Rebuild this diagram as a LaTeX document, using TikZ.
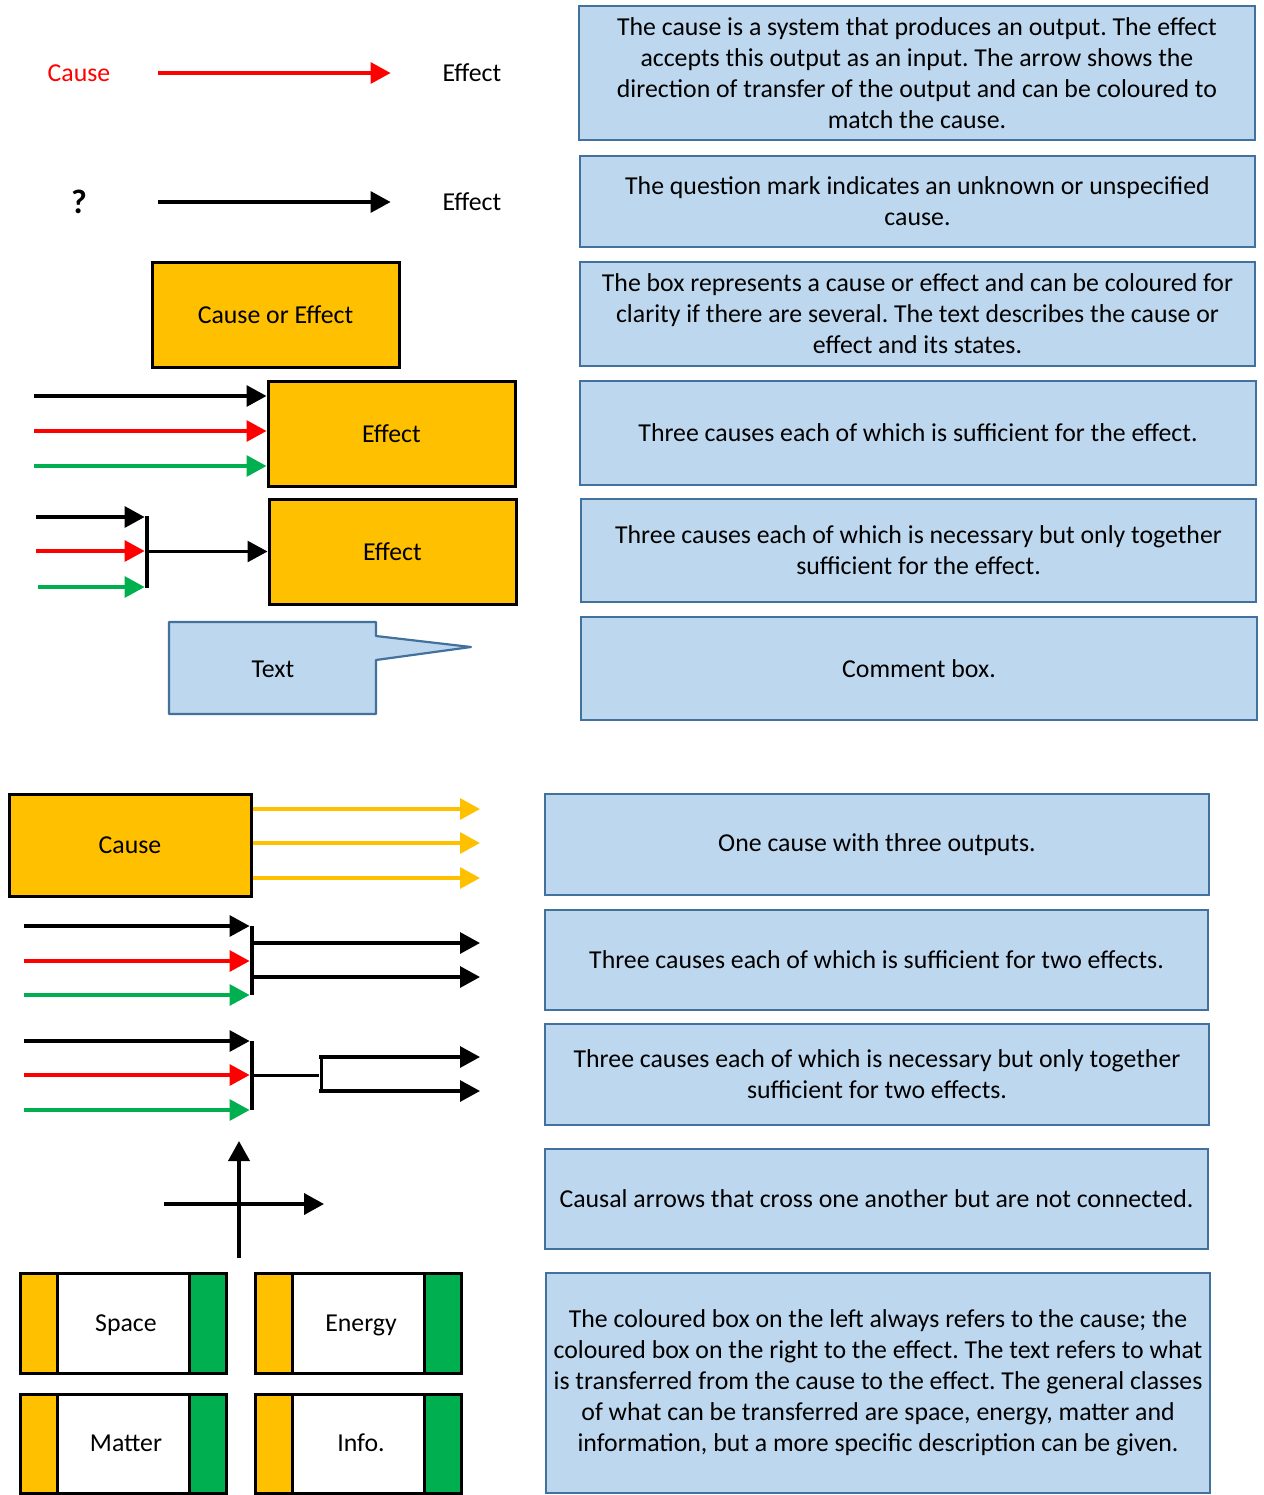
\documentclass[tikz,border=0pt]{standalone}
\usepackage{fontspec}
\setmainfont{Carlito}
\usetikzlibrary{arrows.meta}
\frenchspacing

\definecolor{boxblue}{HTML}{BDD7EE}
\definecolor{edgeblue}{HTML}{41719C}
\definecolor{amber}{HTML}{FFC000}
\definecolor{leaf}{HTML}{00B050}
\definecolor{cred}{HTML}{FF0000}

% rectangle node given by its corners: name, x1, y1, x2, y2, style, text
\newcommand\placebox[7]{%
  \pgfmathsetmacro\pbW{(#4-#2)*0.5}%
  \pgfmathsetmacro\pbH{(#5-#3)*0.5}%
  \pgfmathsetmacro\pbX{(#2+#4)/2}%
  \pgfmathsetmacro\pbY{(#3+#5)/2}%
  \node[#6, minimum width=\pbW pt, minimum height=\pbH pt] (#1) at (\pbX,\pbY) {#7};}

\tikzset{
  txt/.style={font=\fontsize{12.9}{15.5}\selectfont},
  desc/.style={txt, draw=edgeblue, fill=boxblue, line width=1.1pt, align=center, inner sep=0pt},
  ambox/.style={txt, draw=black, fill=amber, line width=1.5pt, inner sep=0pt},
  lbl/.style={txt, inner sep=0pt},
  arr/.style={line width=1.6pt, -{Triangle[length=10pt,width=10.5pt]}},
  joinbar/.style={fill=black, inner sep=0pt, minimum width=2pt},
  xfer/.style={txt, draw=black, fill=white, line width=1.5pt, inner sep=0pt,
    text height=10pt, text depth=2pt,
    path picture={
      \fill[amber] (path picture bounding box.south west) rectangle ([xshift=18.5pt]path picture bounding box.north west);
      \fill[leaf] (path picture bounding box.south east) rectangle ([xshift=-18.5pt]path picture bounding box.north east);
      \draw[line width=1.5pt] ([xshift=18.5pt]path picture bounding box.south west) -- ([xshift=18.5pt]path picture bounding box.north west);
      \draw[line width=1.5pt] ([xshift=-18.5pt]path picture bounding box.south east) -- ([xshift=-18.5pt]path picture bounding box.north east);
    }},
}

\begin{document}
\begin{tikzpicture}[x=0.5pt, y=-0.5pt]
\useasboundingbox (0,0) rectangle (1264,1495);

% ---------- cause -> effect ----------
\node[lbl, text=cred, minimum width=79pt] (c1) at (79,73) {Cause};
\node[lbl, minimum width=81pt] (e1) at (472,73) {Effect};
\draw[arr, cred] (c1.east) -- (e1.west);

% ---------- unknown cause ----------
\node[inner sep=0pt, minimum width=79pt, font=\fontsize{17}{20}\selectfont\bfseries] (q) at (79,202) {?};
\node[lbl, minimum width=81pt] (e2) at (472,202) {Effect};
\draw[arr] (q.east) -- (e2.west);

% ---------- cause or effect box ----------
\placebox{coe}{152}{262}{399}{367}{ambox}{Cause or Effect}

% ---------- three sufficient causes ----------
\placebox{eff1}{268}{381}{515}{486}{ambox}{Effect}
\coordinate (a1) at (34,396);
\coordinate (a2) at (34,431);
\coordinate (a3) at (34,466);
\draw[arr] (a1) -- (a1 -| eff1.west);
\draw[arr, cred] (a2) -- (a2 -| eff1.west);
\draw[arr, leaf] (a3) -- (a3 -| eff1.west);

% ---------- three necessary causes ----------
\placebox{eff2}{269}{499}{516}{604}{ambox}{Effect}
\node[joinbar, minimum height=36pt] (j1) at (147,551.5) {};
\coordinate (b1) at (36,517);
\coordinate (b2) at (36,551);
\coordinate (b3) at (38,587);
\draw[arr] (b1) -- (b1 -| j1.west);
\draw[arr, cred] (b2) -- (b2 -| j1.west);
\draw[arr, leaf] (b3) -- (b3 -| j1.west);
\draw[arr, line width=1.3pt] (j1.east) -- (j1.east -| eff2.west);

% ---------- comment callout ----------
\draw[fill=boxblue, draw=edgeblue, line width=1.1pt, line join=round]
  (169,622) -- (376,622) -- (376,636) -- (471,647) -- (376,660) -- (376,714) -- (169,714) -- cycle;
\node[lbl] (tx) at (273,669) {Text};

% ---------- one cause, three outputs ----------
\placebox{cause}{9}{794}{251}{896}{ambox}{Cause}
\coordinate (o1) at (480,809);
\coordinate (o2) at (480,843);
\coordinate (o3) at (480,878);
\draw[arr, amber] (o1 -| cause.east) -- (o1);
\draw[arr, amber] (o2 -| cause.east) -- (o2);
\draw[arr, amber] (o3 -| cause.east) -- (o3);

% ---------- three sufficient causes, two effects ----------
\node[joinbar, minimum height=34.5pt] (j2) at (252,960.5) {};
\coordinate (s1) at (24,926);
\coordinate (s2) at (24,961);
\coordinate (s3) at (24,995);
\draw[arr] (s1) -- (s1 -| j2.west);
\draw[arr, cred] (s2) -- (s2 -| j2.west);
\draw[arr, leaf] (s3) -- (s3 -| j2.west);
\coordinate (p1) at (480,943);
\coordinate (p2) at (480,977);
\draw[arr] (p1 -| j2.east) -- (p1);
\draw[arr] (p2 -| j2.east) -- (p2);

% ---------- three necessary causes, two effects ----------
\node[joinbar, minimum height=34.5pt] (j3) at (252,1075.5) {};
\coordinate (n1) at (24,1041);
\coordinate (n2) at (24,1075);
\coordinate (n3) at (24,1110);
\draw[arr] (n1) -- (n1 -| j3.west);
\draw[arr, cred] (n2) -- (n2 -| j3.west);
\draw[arr, leaf] (n3) -- (n3 -| j3.west);
\node[joinbar, minimum width=1.5pt, minimum height=17.5pt] (sp) at (321,1074) {};
\draw[line width=1.2pt] (j3.east) -- (j3.east -| sp.west);
\coordinate (r1) at (480,1057);
\coordinate (r2) at (480,1091);
\draw[arr] (r1 -| sp.west) -- (r1);
\draw[arr] (r2 -| sp.west) -- (r2);

% ---------- crossing arrows ----------
\coordinate (v0) at (239,1258);
\coordinate (v1) at (239,1141);
\coordinate (h0) at (164,1204);
\coordinate (h1) at (324,1204);
\draw[arr, line width=1.9pt] (v0) -- (v1);
\draw[arr, line width=1.9pt] (h0) -- (h1);

% ---------- transfer boxes ----------
\placebox{space}{20}{1273}{226}{1373}{xfer}{\hspace*{3pt}Space}
\placebox{energy}{255}{1273}{461}{1373}{xfer}{\hspace*{3pt}Energy}
\placebox{matter}{20}{1394}{226}{1493}{xfer}{\hspace*{3pt}Matter}
\placebox{info}{255}{1394}{461}{1493}{xfer}{\hspace*{3pt}Info.}

% ---------- explanations ----------
\placebox{d1}{579}{6}{1255}{140}{desc}{The cause is a system that produces an output. The effect\\accepts this output as an input. The arrow shows the\\direction of transfer of the output and can be coloured to\\match the cause.}
\placebox{d2}{580}{156}{1255}{247}{desc}{The question mark indicates an unknown or unspecified\\cause.}
\placebox{d3}{580}{262}{1255}{366}{desc}{The box represents a cause or effect and can be coloured for\\clarity if there are several. The text describes the cause or\\effect and its states.}
\placebox{d4}{580}{381}{1256}{485}{desc}{Three causes each of which is sufficient for the effect.}
\placebox{d5}{581}{499}{1256}{602}{desc}{Three causes each of which is necessary but only together\\sufficient for the effect.}
\placebox{d6}{581}{617}{1257}{720}{desc}{Comment box.}
\placebox{d7}{545}{794}{1209}{895}{desc}{One cause with three outputs.}
\placebox{d8}{545}{910}{1208}{1010}{desc}{Three causes each of which is sufficient for two effects.}
\placebox{d9}{545}{1024}{1209}{1125}{desc}{Three causes each of which is necessary but only together\\sufficient for two effects.}
\placebox{d10}{545}{1149}{1208}{1249}{desc}{Causal arrows that cross one another but are not connected.}
\placebox{d11}{546}{1273}{1210}{1493}{desc}{The coloured box on the left always refers to the cause; the\\coloured box on the right to the effect. The text refers to what\\is transferred from the cause to the effect. The general classes\\of what can be transferred are space, energy, matter and\\information, but a more specific description can be given.}
\end{tikzpicture}
\end{document}
